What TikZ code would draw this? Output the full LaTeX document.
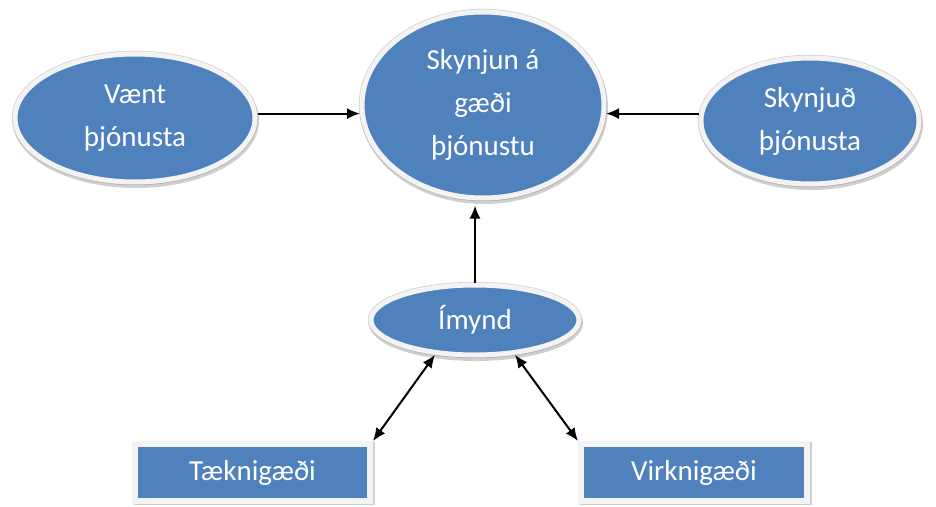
\documentclass[tikz,border=0pt]{standalone}
\usepackage{fontspec}
\setmainfont{Carlito}
\usetikzlibrary{shapes.geometric,arrows.meta,shadows}

\definecolor{fillblue}{RGB}{79,129,189}
\definecolor{ringgrey}{RGB}{243,243,243}
\definecolor{edgegrey}{RGB}{210,210,210}
\definecolor{shadegrey}{RGB}{160,160,160}

\begin{document}
\begin{tikzpicture}[x=1pt,y=-1pt,
  label font/.style={font=\fontsize{29}{43}\selectfont},
  bubble/.style={ellipse, fill=fillblue, draw=ringgrey, line width=5pt,
    text=white, label font, align=center, inner sep=0pt,
    preaction={draw=edgegrey, line width=6.5pt},
    drop shadow={shadow xshift=1pt, shadow yshift=-3pt, fill=shadegrey,
      draw=shadegrey, line width=6pt, opacity=.5}},
  panel/.style={rectangle, fill=fillblue, draw=ringgrey, line width=6pt,
    text=white, label font, inner sep=0pt,
    drop shadow={shadow xshift=2pt, shadow yshift=-1pt, fill=shadegrey,
      draw=shadegrey, line width=6pt, opacity=.5}},
  tip/.tip={Latex[length=13pt,width=11pt]},
  arr/.style={-tip, line width=2pt, black},
  dblarr/.style={tip-tip, line width=2pt, black}]

\useasboundingbox (0,0) rectangle (936,506);

% perception model bubbles
\node[bubble, minimum width=240pt, minimum height=128pt] (vent) at (135,118)
  {Vænt\\þjónusta};
\node[bubble, minimum width=242pt, minimum height=186pt] (skyn) at (483,105)
  {Skynjun á\\gæði\\þjónustu};
\node[bubble, minimum width=218pt, minimum height=126pt] (skjd) at (810,121)
  {Skynjuð\\þjónusta};
\node[bubble, minimum width=208pt, minimum height=70pt] (imynd) at (475,320)
  {Ímynd};

% quality dimensions
\node[panel, minimum width=235pt, minimum height=57pt] (tekn) at (252.5,472.5)
  {Tæknigæði};
\node[panel, minimum width=226pt, minimum height=57pt] (virk) at (694,472.5)
  {Virknigæði};

% connectors
\draw[arr] (skyn.184 -| vent.east) -- (skyn.184);
\draw[arr] (skyn.356 -| skjd.west) -- (skyn.356);
\draw[arr, shorten >=5pt] (imynd.north) -- (imynd.north |- skyn.south);
\draw[dblarr] (imynd.221) -- (tekn.north east);
\draw[dblarr] (imynd.319) -- (virk.north west);
\end{tikzpicture}
\end{document}
